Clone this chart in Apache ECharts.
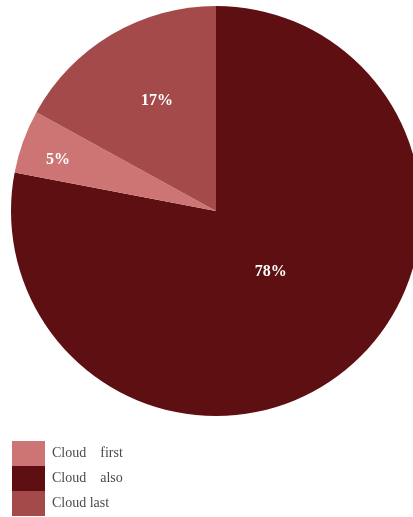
<!DOCTYPE html>
<html>
<head>
<meta charset="utf-8">
<script src="https://cdn.jsdelivr.net/npm/echarts@6/dist/echarts.min.js"></script>
<style>
  html, body { margin: 0; padding: 0; background: #fff; }
  #chart { width: 413px; height: 517px; }
</style>
</head>
<body>
<div id="chart"></div>
<script>
// slice order as drawn clockwise from 12 o'clock
const names = ['Cloud    also', 'Cloud    first', 'Cloud last'];
const values = [78, 5, 17];
const legendOrder = ['Cloud    first', 'Cloud    also', 'Cloud last'];
const colors = ['#5e0f12', '#cd7474', '#a44a4a'];
// label placement: fraction of radius, and small turn (deg) off the slice middle
const labelRadius = [0.40, 0.81, 0.61];
const labelTurn = [2.4, 2, -2.4];

const center = [216, 211];
const radius = 205;
const total = values.reduce((a, b) => a + b, 0);
const midAngles = [];
let acc = 0;
values.forEach(v => {
  midAngles.push(90 - (acc + v / 2) / total * 360);
  acc += v;
});

const chart = echarts.init(document.getElementById('chart'));

chart.setOption({
  animation: false,
  backgroundColor: '#fff',
  legend: {
    data: legendOrder,
    orient: 'vertical',
    left: 12,
    top: 441,
    height: 120,
    padding: 0,
    icon: 'rect',
    itemWidth: 33,
    itemHeight: 25,
    itemGap: 0,
    textStyle: {
      fontFamily: 'Liberation Serif',
      fontSize: 14,
      color: '#4a4a4a',
      padding: [0, 0, 0, 2]
    }
  },
  series: [{
    type: 'pie',
    center: center,
    radius: radius,
    startAngle: 90,
    clockwise: true,
    silent: true,
    itemStyle: { borderWidth: 0 },
    label: {
      position: 'inside',
      formatter: '{d}%',
      color: '#fff',
      fontFamily: 'Liberation Serif',
      fontWeight: 'bold',
      fontSize: 16
    },
    labelLine: { show: false },
    labelLayout: function (p) {
      const i = p.dataIndex;
      const a = (midAngles[i] + labelTurn[i]) * Math.PI / 180;
      const d = labelRadius[i] * radius;
      return {
        x: center[0] + d * Math.cos(a),
        y: center[1] - d * Math.sin(a),
        align: 'center',
        verticalAlign: 'middle'
      };
    },
    data: names.map((n, i) => ({ name: n, value: values[i], itemStyle: { color: colors[i] } }))
  }]
});
</script>
</body>
</html>
